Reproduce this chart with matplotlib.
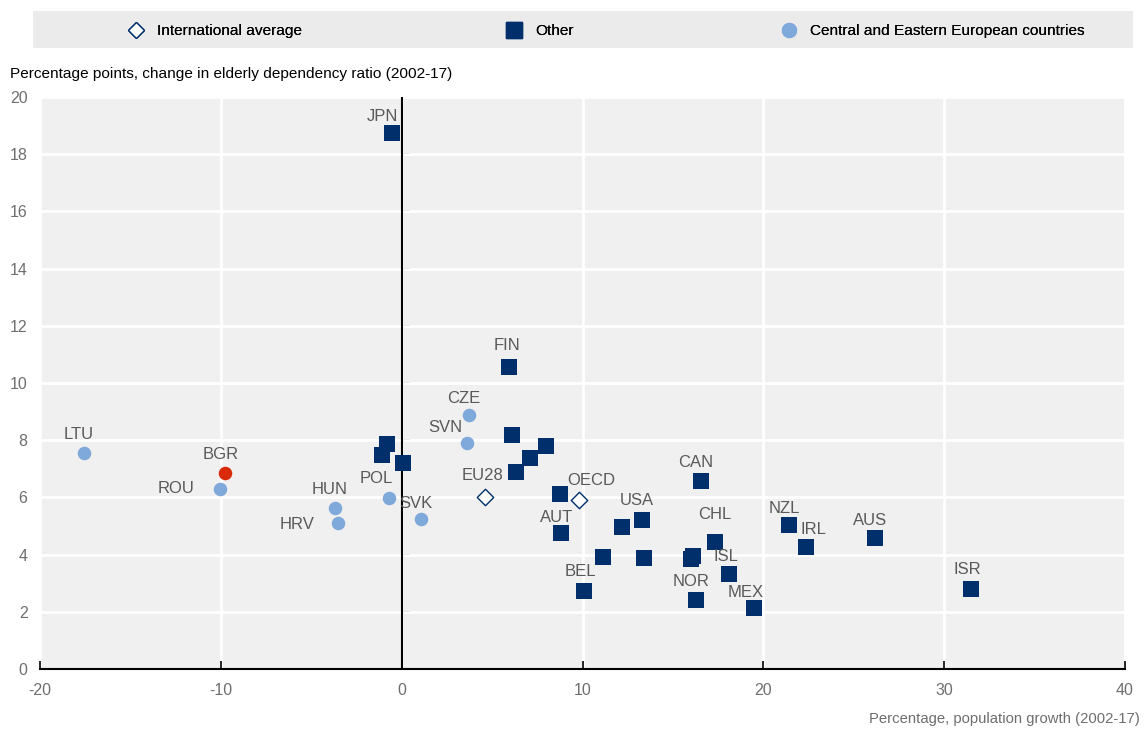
import matplotlib.pyplot as plt
from matplotlib.patches import Rectangle
from matplotlib.lines import Line2D

# --- data --------------------------------------------------------------
other_codes = ['JPN', 'FIN', '', '', '', '', '', '', '', '', 'AUT', '', 'USA', '', '',
               'BEL', 'CAN', '', '', 'CHL', 'ISL', 'NOR', 'MEX', 'NZL', 'IRL', 'AUS', 'ISR']
other_x = [-0.55, 5.95, 6.08, 8.0, 7.12, 6.34, -0.79, -1.1, 0.09, 8.78, 8.8, 12.2, 13.27, 11.15, 13.38,
           10.1, 16.54, 16.1, 15.98, 17.3, 18.09, 16.26, 19.47, 21.44, 22.38, 26.2, 31.47]
other_y = [18.74, 10.57, 8.18, 7.8, 7.38, 6.89, 7.87, 7.49, 7.2, 6.11, 4.77, 4.97, 5.21, 3.92, 3.88,
           2.73, 6.57, 3.95, 3.85, 4.43, 3.33, 2.40, 2.13, 5.03, 4.28, 4.58, 2.80]

cee_codes = ['LTU', 'ROU', 'HUN', 'HRV', 'POL', 'SVK', 'CZE', 'SVN']
cee_x = [-17.57, -10.03, -3.69, -3.5, -0.68, 1.07, 3.72, 3.63]
cee_y = [7.54, 6.3, 5.62, 5.1, 5.97, 5.23, 8.89, 7.91]

hl_codes = ['BGR']
hl_x = [-9.75]
hl_y = [6.84]

avg_codes = ['EU28', 'OECD']
avg_x = [4.61, 9.83]
avg_y = [6.02, 5.9]

legend_labels = ['International average', 'Other', 'Central and Eastern European countries']

# label offsets in pixels (dx, dy) relative to marker
offsets = {
    'JPN': (-9, 17), 'FIN': (-2, 21), 'CZE': (-5, 16), 'SVN': (-22, 15), 'EU28': (-3, 21),
    'OECD': (12, 20), 'AUT': (-4, 15), 'USA': (-5, 19), 'BEL': (-4, 19), 'HUN': (-5, 19),
    'HRV': (-41, -1), 'POL': (-13, 20), 'SVK': (-5, 16), 'LTU': (-5, 19), 'BGR': (-5, 19),
    'ROU': (-44, 0), 'CAN': (-5, 19), 'CHL': (0, 28), 'ISL': (-3, 17), 'NOR': (-5, 19),
    'MEX': (-8, 16), 'NZL': (-5, 17), 'IRL': (7, 17), 'AUS': (-5, 18), 'ISR': (-3, 19),
}

navy = '#002F6C'
light = '#7FA8DB'
red = '#D92B0C'
grey_txt = '#595959'

plt.rcParams['font.family'] = ['Liberation Sans', 'DejaVu Sans']
plt.rcParams['axes.unicode_minus'] = False

fig = plt.figure(figsize=(11.45, 7.29), dpi=100)
ax = fig.add_axes([40 / 1145, 60 / 729, 1085 / 1145, 572 / 729])
ax.set_facecolor('#F0F0F0')

ax.set_xlim(-20, 40)
ax.set_ylim(0, 20)
ax.set_xticks(range(-20, 41, 10))
ax.set_yticks(range(0, 21, 2))
ax.grid(True, color='white', linewidth=2)
ax.set_axisbelow(True)

for s in ['top', 'right', 'left']:
    ax.spines[s].set_visible(False)
ax.spines['bottom'].set_color('black')
ax.spines['bottom'].set_linewidth(1.5)
ax.tick_params(axis='x', direction='in', length=6, width=1.2, colors='black',
               labelcolor='#6E6E6E', labelsize=11.5, pad=10)
ax.tick_params(axis='y', length=0, labelcolor='#6E6E6E', labelsize=11.5, pad=9)

# vertical axis line at x=0 with inward ticks
ax.axvline(0, color='black', linewidth=1.5, zorder=2)
sec = ax.secondary_yaxis(20 / 60)
sec.spines['left'].set_visible(False)
sec.set_yticks(range(2, 19, 2))
sec.tick_params(axis='y', direction='in', length=6, width=1.2, labelleft=False)

ax.scatter(other_x, other_y, marker='s', s=120, color=navy, zorder=3, linewidths=0)
ax.scatter(cee_x, cee_y, marker='o', s=95, color=light, zorder=3, linewidths=0)
ax.scatter(hl_x, hl_y, marker='o', s=95, color=red, zorder=3, linewidths=0)
ax.scatter(avg_x, avg_y, marker='D', s=70, facecolor='white', edgecolor=navy, linewidths=1, zorder=3)

for codes, xs, ys in [(other_codes, other_x, other_y), (cee_codes, cee_x, cee_y),
                      (hl_codes, hl_x, hl_y), (avg_codes, avg_x, avg_y)]:
    for c, x, y in zip(codes, xs, ys):
        if not c:
            continue
        dx, dy = offsets[c]
        ax.annotate(c, (x, y), xytext=(dx, dy), textcoords='offset pixels',
                    ha='center', va='center', fontsize=12, color=grey_txt, zorder=4)

fig.text(10 / 1145, 1 - 74 / 729, 'Percentage points, change in elderly dependency ratio (2002-17)',
         ha='left', va='center', fontsize=11.1, color='black')
fig.text(1140 / 1145, 1 - 719 / 729, 'Percentage, population growth (2002-17)',
         ha='right', va='center', fontsize=10.7, color='#6E6E6E')

# legend band
fig.patches.append(Rectangle((33 / 1145, 1 - 48 / 729), 1100 / 1145, 37 / 729,
                             transform=fig.transFigure, facecolor='#EBEBEB', edgecolor='none', zorder=0))
handles = [
    Line2D([], [], linestyle='none', marker='D', markersize=8, markerfacecolor='white',
           markeredgecolor=navy, markeredgewidth=1),
    Line2D([], [], linestyle='none', marker='s', markersize=11, color=navy),
    Line2D([], [], linestyle='none', marker='o', markersize=10, color=light),
]
marker_px = [136, 514, 789]
for h, lab, mx in zip(handles, legend_labels, marker_px):
    leg = fig.legend([h], [lab], loc='center left', bbox_to_anchor=((mx - 9) / 1145, 1 - 31 / 729),
                     frameon=False, borderpad=0, borderaxespad=0, handlelength=1.2,
                     handletextpad=0.75, fontsize=11.1)
    fig.add_artist(leg)

fig.savefig('out.png', dpi=100)
